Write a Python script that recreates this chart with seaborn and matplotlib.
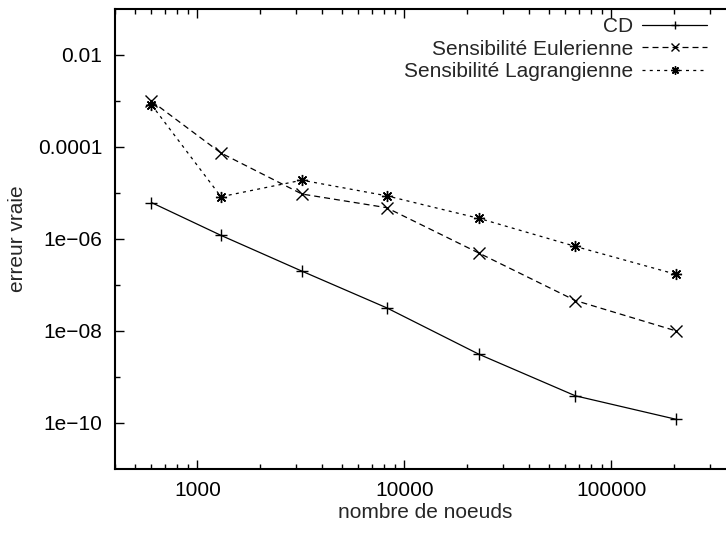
import matplotlib
matplotlib.use("Agg")
import matplotlib.pyplot as plt
import matplotlib.ticker as mticker
import seaborn as sns
import pandas as pd

# ---- data ----
nodes = [600, 1300, 3200, 8200, 23000, 67000, 206000]
err_cd = [6.2e-6, 1.2e-6, 2.0e-7, 3.2e-8, 3.1e-9, 3.9e-10, 1.2e-10]
err_euler = [1.0e-3, 7.4e-5, 9.5e-6, 4.8e-6, 4.9e-7, 4.6e-8, 1.0e-8]
err_lagrange = [8.3e-4, 8.3e-6, 1.9e-5, 8.7e-6, 2.8e-6, 6.9e-7, 1.7e-7]
series_names = ["CD", "Sensibilité Eulerienne", "Sensibilité Lagrangienne"]
y_major = [1e-10, 1e-8, 1e-6, 1e-4, 1e-2]
y_major_labels = ["1e\u221210", "1e\u221208", "1e\u221206", "0.0001", "0.01"]
y_minor = [1e-9, 1e-7, 1e-5, 1e-3]
xlabel = "nombre de noeuds"
ylabel = "erreur vraie"

sns.set_style("ticks")
plt.rcParams["font.family"] = ["Liberation Sans", "DejaVu Sans"]
plt.rcParams["font.size"] = 15

fig = plt.figure(figsize=(7.26, 5.34), dpi=100)
W, H = 726, 534
ax = fig.add_axes([115 / W, (H - 469) / H, (736 - 115) / W, (469 - 9) / H])

styles = {
    "CD": dict(marker="+", linestyle="-"),
    "Sensibilité Eulerienne": dict(marker="x", linestyle=(0, (4.8, 3.2))),
    "Sensibilité Lagrangienne": dict(marker=(8, 2, 0), linestyle=(0, (2.4, 3.4))),
}
for name, vals in zip(series_names, [err_cd, err_euler, err_lagrange]):
    df = pd.DataFrame({"nodes": nodes, "err": vals})
    sns.lineplot(data=df, x="nodes", y="err", ax=ax, color="black",
                 linewidth=0.9, markersize=8, markeredgewidth=1.0,
                 markeredgecolor="black", markerfacecolor="black",
                 label=name, **styles[name])

ax.set_xscale("log")
ax.set_yscale("log")
ax.set_xlim(400, 400000)
ax.set_ylim(1e-11, 1e-1)

ax.yaxis.set_major_locator(mticker.FixedLocator(y_major))
ax.yaxis.set_major_formatter(mticker.FixedFormatter(y_major_labels))
ax.yaxis.set_minor_locator(mticker.FixedLocator(y_minor))
ax.yaxis.set_minor_formatter(mticker.NullFormatter())

ax.xaxis.set_major_locator(mticker.LogLocator(base=10))
ax.xaxis.set_major_formatter(mticker.FuncFormatter(lambda v, p: "%d" % round(v)))
ax.xaxis.set_minor_locator(mticker.LogLocator(base=10, subs=[2, 3, 4, 5, 6, 7, 8, 9]))
ax.xaxis.set_minor_formatter(mticker.NullFormatter())

ax.tick_params(which="both", direction="in", top=True, right=True,
               colors="black", labelsize=15)
ax.tick_params(which="major", length=6.5, width=1.0, pad=9)
ax.tick_params(which="minor", length=3.5, width=1.0)
for s in ax.spines.values():
    s.set_linewidth(1.5)
    s.set_color("black")

ax.set_xlabel(xlabel, fontsize=15, labelpad=2)
ax.set_ylabel(ylabel, fontsize=15, labelpad=8)

handles, labels = ax.get_legend_handles_labels()
ax.legend(handles, labels, loc="upper right", markerfirst=False,
          bbox_to_anchor=(707 / W, 1 - 17 / H), bbox_transform=fig.transFigure,
          frameon=False, borderpad=0, borderaxespad=0, handlelength=3.1,
          handletextpad=0.45, labelspacing=0.17, numpoints=1, fontsize=15,
          markerscale=0.75)

fig.savefig("out.png", dpi=100)
